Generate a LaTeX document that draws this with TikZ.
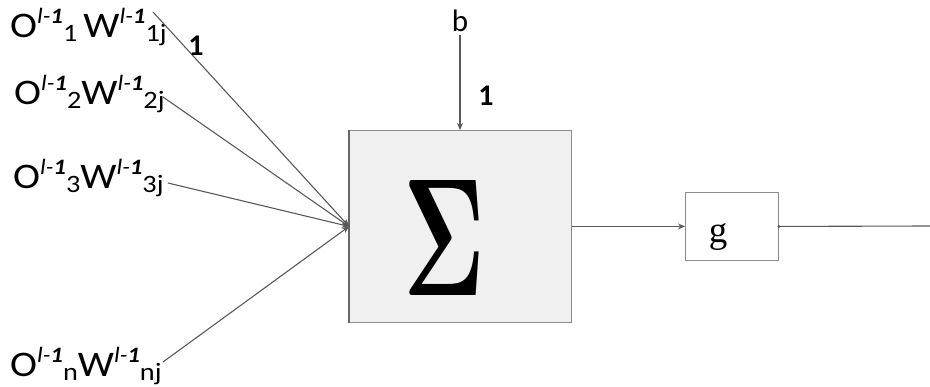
\documentclass[tikz,border=0pt]{standalone}
\usepackage[no-math]{fontspec}
\setmainfont{Carlito}
\newfontfamily\gserif{Liberation Serif}
\usetikzlibrary{arrows.meta}
\newcommand{\sups}[1]{\raisebox{0.40em}{\fontsize{22}{22}\selectfont\itshape #1}}
\newcommand{\subs}[1]{\raisebox{-0.10em}{\fontsize{25}{25}\selectfont #1}}
\newcommand{\inlab}[3]{\scalebox{1.13}[1]{O\sups{l-\textbf{1}}\subs{#1}#3W\sups{l-\textbf{1}}\subs{#2}}}
\begin{document}
\begin{tikzpicture}[x=1pt,y=-1pt,
  lab/.style={anchor=base west,inner sep=0pt,font=\fontsize{36}{36}\selectfont},
  wire/.style={draw=black!65,line width=1.1pt},
  tip/.style={-{Stealth[length=7pt,width=6pt]}},
  one/.style={inner sep=0pt,font=\fontsize{30}{30}\selectfont\bfseries}]
\useasboundingbox (0,0) rectangle (930,387);
% summation box
\node[draw=black!45,fill=black!6,line width=0.9pt,minimum width=222pt,minimum height=192pt,anchor=north west,inner sep=0pt] (sum) at (349,130) {};
\draw[black!60,line width=1.8pt] (sum.north west) -- (sum.south west);
\node[inner sep=0pt] (sig) at (445,238) {\resizebox{82pt}{115pt}{$\mathbf{\Sigma}$}};
% g box
\node[draw=black!45,fill=white,line width=0.9pt,minimum width=93pt,minimum height=68pt,anchor=north west,inner sep=0pt] (g) at (685,192) {};
\node[inner sep=0pt,font=\fontsize{37}{37}\selectfont\gserif] (gl) at (718,237) {g};
% input labels
\node[lab] (l1) at (10,38) {\inlab{1}{1j}{\hspace{0.15em}}};
\node[lab] (l2) at (14,105) {\inlab{2}{2j}{}};
\node[lab] (l3) at (13,189) {\inlab{3}{3j}{}};
\node[lab] (ln) at (10,377) {\inlab{n}{nj}{}};
\coordinate (s1) at (153,12);
\coordinate (s2) at (163,97);
\coordinate (s3) at (168,183);
\coordinate (sn) at (163,362);
\draw[wire,tip] (s1) -- (sum.west);
\draw[wire,tip] (s2) -- (sum.west);
\draw[wire,tip] (s3) -- (sum.west);
\draw[wire,tip] (sn) -- (sum.west);
\node[one] (w1) at (196,46) {1};
% bias
\node[inner sep=0pt,font=\fontsize{31}{31}\selectfont] (b) at (460,21) {b};
\coordinate (bs) at (460,35);
\draw[wire,tip] (bs) -- (sum.north -| bs);
\node[one] (w0) at (486,96) {1};
% output
\draw[wire,tip] (sum.east) -- (g.west);
\coordinate (out) at (930,226);
\draw[wire] (g.east) -- (out);
\fill[black!70] (g.east) circle (1.5pt);
\end{tikzpicture}
\end{document}
